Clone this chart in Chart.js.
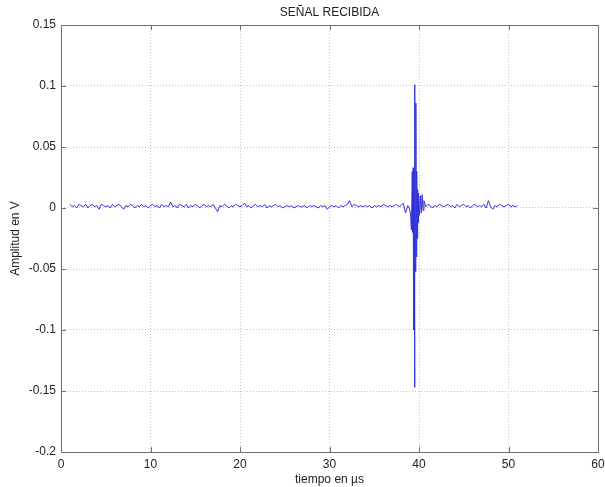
<!DOCTYPE html>
<html>
<head>
<meta charset="utf-8">
<script src="https://cdn.jsdelivr.net/npm/chart.js@4"></script>
<style>
  html, body { margin: 0; padding: 0; background: #fff; }
  #wrap { width: 605px; height: 487px; }
</style>
</head>
<body>
<div id="wrap"><canvas id="grafica"></canvas></div>
<script>
// ruido antes de la rafaga: muestras cada 0.25 us desde 1.0 us
const inicioRuido1 = 1.0;
const pasoRuido = 0.25;
const ruido1 = [
    0.003, 0.001, 0.002, 0.000, 0.003, 0.002, 0.001, 0.003, 0.000, 0.002, 0.003, 0.001, 0.002, -0.001, 0.003, 0.002,
    0.001, 0.002, 0.000, 0.003, 0.001, 0.002, 0.003, 0.001, -0.001, 0.002, 0.001, 0.003, 0.002, 0.000, 0.002, 0.001,
    0.003, 0.001, 0.002, 0.000, 0.002, 0.003, 0.001, 0.002, 0.000, 0.003, 0.001, 0.002, 0.001, 0.005, 0.001, 0.002,
    0.000, 0.003, 0.002, 0.001, 0.003, 0.000, 0.002, 0.001, 0.003, 0.002, 0.000, 0.002, 0.003, 0.001, 0.002, 0.001,
    0.003, 0.000, -0.003, 0.002, 0.001, 0.003, 0.002, 0.000, 0.002, 0.001, 0.003, 0.002, 0.001, 0.002, 0.004, 0.001,
    0.002, 0.000, 0.002, 0.003, 0.001, 0.002, 0.001, 0.003, 0.000, 0.002, 0.001, 0.002, 0.003, 0.001, 0.002, 0.000,
    0.001, 0.002, 0.001, 0.002, 0.000, 0.001, 0.002, 0.001, 0.001, 0.002, 0.000, 0.002, 0.001, 0.002, 0.001, 0.000,
    0.002, 0.001, 0.002, -0.001, 0.001, 0.002, 0.001, 0.002, 0.000, 0.002, 0.001, 0.002, 0.003, 0.006, 0.001, 0.003,
    0.002, 0.001, 0.002, 0.001, 0.002, 0.001, 0.002, 0.000, 0.002, 0.001, 0.002, 0.001, 0.003, 0.002, 0.001, 0.002,
    0.001, 0.002, 0.003, 0.001, 0.002, 0.004, -0.004, 0.002
];

// la rafaga (eco recibido)
const rafagaT = [38.9, 39.05, 39.15, 39.25, 39.3, 39.35, 39.4, 39.45, 39.5, 39.55, 39.6, 39.65, 39.7,
    39.75, 39.8, 39.85, 39.9, 39.95, 40.05, 40.15, 40.25, 40.35, 40.45, 40.55];
const rafagaV = [0.000, -0.004, -0.018, 0.030, -0.020, 0.033, -0.100, 0.032, -0.147, 0.101, -0.052, 0.086, -0.040,
    0.030, -0.025, 0.015, -0.012, 0.012, -0.006, 0.010, -0.004, 0.011, -0.002, 0.006];

// ruido despues de la rafaga
const inicioRuido2 = 40.75;
const ruido2 = [
    0.001, 0.003, 0.002, 0.000, 0.002, 0.001, 0.003, 0.002, 0.001, 0.002, 0.003, 0.001, 0.002, 0.000, 0.003, 0.001,
    0.002, 0.003, 0.001, 0.002, 0.000, 0.002, 0.003, 0.001, 0.002, 0.001, 0.003, 0.000, 0.006, 0.001, -0.001, 0.002,
    0.001, 0.003, 0.002, 0.001, 0.002, 0.003, 0.001, 0.002, 0.001, 0.002
];

const ticksX = [0, 10, 20, 30, 40, 50, 60];
const ticksY = [-0.2, -0.15, -0.1, -0.05, 0, 0.05, 0.1, 0.15];

const puntos = [];
ruido1.forEach((v, i) => puntos.push({ x: inicioRuido1 + i * pasoRuido, y: v }));
rafagaT.forEach((t, i) => puntos.push({ x: t, y: rafagaV[i] }));
ruido2.forEach((v, i) => puntos.push({ x: inicioRuido2 + i * pasoRuido, y: v }));

const fuente = { family: 'Liberation Sans, Arial, sans-serif', size: 12 };

// caja de ejes con marcas hacia dentro y titulo, al estilo matlab
const cajaMatlab = {
    id: 'cajaMatlab',
    afterDraw(chart) {
        const ctx = chart.ctx;
        const a = chart.chartArea;
        const sx = chart.scales.x;
        const sy = chart.scales.y;
        ctx.save();
        ctx.setLineDash([]);
        ctx.strokeStyle = '#6e6e6e';
        ctx.lineWidth = 1;
        ctx.strokeRect(Math.round(a.left) + 0.5, Math.round(a.top) + 0.5,
            Math.round(a.right - a.left), Math.round(a.bottom - a.top));
        ctx.beginPath();
        ticksX.forEach(t => {
            const px = Math.round(sx.getPixelForValue(t)) + 0.5;
            ctx.moveTo(px, a.bottom); ctx.lineTo(px, a.bottom - 5);
            ctx.moveTo(px, a.top); ctx.lineTo(px, a.top + 5);
        });
        ticksY.forEach(t => {
            const py = Math.round(sy.getPixelForValue(t)) + 0.5;
            ctx.moveTo(a.left, py); ctx.lineTo(a.left + 5, py);
            ctx.moveTo(a.right, py); ctx.lineTo(a.right - 5, py);
        });
        ctx.stroke();
        ctx.fillStyle = '#222';
        ctx.font = '12px ' + fuente.family;
        ctx.textAlign = 'center';
        ctx.textBaseline = 'middle';
        ctx.fillText('SEÑAL RECIBIDA', (a.left + a.right) / 2, a.top - 12);
        ctx.restore();
    }
};

new Chart(document.getElementById('grafica'), {
    type: 'line',
    data: {
        datasets: [{
            data: puntos,
            borderColor: 'rgb(50,50,215)',
            borderWidth: 1,
            pointRadius: 0,
            tension: 0,
            fill: false
        }]
    },
    options: {
        responsive: true,
        maintainAspectRatio: false,
        animation: false,
        events: [],
        layout: { padding: { top: 25, right: 7, left: 0, bottom: 0 } },
        plugins: { legend: { display: false }, tooltip: { enabled: false }, title: { display: false } },
        scales: {
            x: {
                type: 'linear',
                min: 0,
                max: 60,
                afterBuildTicks: s => { s.ticks = ticksX.map(v => ({ value: v })); },
                afterFit: s => { s.height = 35; s.paddingLeft = 0; s.paddingRight = 0; },
                ticks: { color: '#222', font: fuente, padding: 5, maxRotation: 0, autoSkip: false },
                grid: { color: '#c4c4c4', lineWidth: 1, drawTicks: false },
                border: { display: false, dash: [1, 2] },
                title: { display: true, text: 'tiempo en µs', color: '#222', font: fuente, padding: { top: 0, bottom: 0 } }
            },
            y: {
                type: 'linear',
                min: -0.2,
                max: 0.15,
                afterBuildTicks: s => { s.ticks = ticksY.map(v => ({ value: v })); },
                afterFit: s => { s.width = 61; },
                ticks: {
                    color: '#222', font: fuente, padding: 5, autoSkip: false,
                    callback: v => String(Number(v.toFixed(2)))
                },
                grid: { color: '#c4c4c4', lineWidth: 1, drawTicks: false },
                border: { display: false, dash: [1, 2] },
                title: { display: true, text: 'Amplitud en V', color: '#222', font: fuente, padding: { top: 8, bottom: 0 } }
            }
        }
    },
    plugins: [cajaMatlab]
});
</script>
</body>
</html>
